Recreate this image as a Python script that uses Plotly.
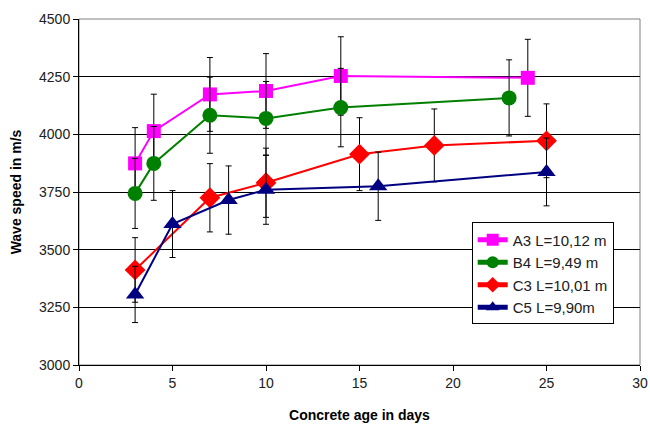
import plotly.graph_objects as go

a3_x = [3, 4, 7, 10, 14, 24]
a3_y = [3874, 4014, 4173, 4188, 4253, 4245]
a3_e = [155, 160, 160, 162, 170, 167]

b4_x = [3, 4, 7, 10, 14, 23]
b4_y = [3744, 3874, 4083, 4069, 4116, 4158]
b4_e = [152, 160, 165, 160, 170, 165]

c3_x = [3, 7, 10, 15, 19, 25]
c3_y = [3412, 3725, 3790, 3914, 3952, 3972]
c3_e = [140, 148, 150, 158, 158, 160]

c5_x = [3, 5, 8, 10, 16, 25]
c5_y = [3306, 3611, 3715, 3760, 3775, 3837]
c5_e = [122, 145, 148, 150, 148, 147]

series = [
    ("A3 L=10,12 m", a3_x, a3_y, a3_e, "#FF00FF", "square", 14),
    ("B4 L=9,49 m", b4_x, b4_y, b4_e, "#008000", "circle", 15),
    ("C3 L=10,01 m", c3_x, c3_y, c3_e, "#FF0000", "diamond", 16),
    ("C5 L=9,90m", c5_x, c5_y, c5_e, "#000080", "triangle-up", 16),
]

fig = go.Figure()
for name, xs, ys, es, col, sym, sz in series:
    fig.add_trace(go.Scatter(
        x=xs, y=ys, name=name, mode="lines+markers",
        line=dict(color=col, width=2),
        marker=dict(symbol=sym, size=sz, color=col),
        error_y=dict(type="data", array=es, visible=True, color="black", thickness=1, width=3),
    ))

fig.update_layout(
    width=650, height=426,
    margin=dict(l=79, r=10, t=19, b=61),
    paper_bgcolor="white", plot_bgcolor="white",
    font=dict(family="Liberation Sans, Arial, sans-serif", size=14, color="#202020"),
    showlegend=True,
    legend=dict(x=0.700, y=0.412, xanchor="left", yanchor="top",
                bgcolor="white", bordercolor="black", borderwidth=1,
                font=dict(size=15), tracegroupgap=0, itemsizing="constant"),
)
fig.update_xaxes(
    range=[0, 30], tickvals=[0, 5, 10, 15, 20, 25, 30],
    showgrid=False, zeroline=False, automargin=False,
    showline=True, linecolor="black", linewidth=1, mirror=False,
    ticks="outside", ticklen=5, tickcolor="black",
    title=dict(text="<b>Concrete age in days</b>", font=dict(size=14, color="black"), standoff=20),
)
fig.update_yaxes(
    range=[3000, 4500], tickvals=[3000, 3250, 3500, 3750, 4000, 4250, 4500],
    showgrid=True, gridcolor="black", gridwidth=1, zeroline=False, automargin=False,
    showline=True, linecolor="black", linewidth=1,
    ticks="outside", ticklen=5, tickcolor="black",
    title=dict(text="<b>Wave speed in m/s</b>", font=dict(size=14, color="black"), standoff=14),
)
# plot area top/right border
fig.add_shape(type="rect", xref="paper", yref="paper", x0=0, y0=0, x1=1, y1=1,
              line=dict(color="#808080", width=1), layer="below")

fig.write_html("out.html", config={"displayModeBar": False},
               post_script="document.body.style.margin='0';")
